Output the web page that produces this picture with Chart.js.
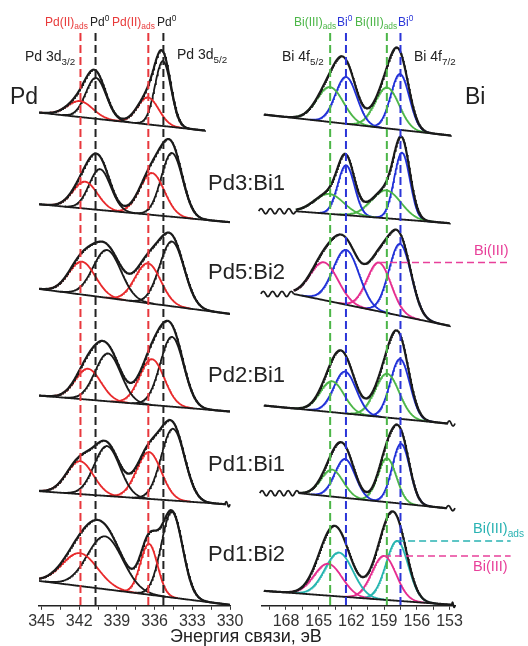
<!DOCTYPE html>
<html>
<head>
<meta charset="utf-8">
<script src="https://cdn.jsdelivr.net/npm/chart.js@4.4.1/dist/chart.umd.min.js"></script>
<style>
body { margin: 0; background: #fff; }
#wrap { position: relative; width: 528px; height: 646px; overflow: hidden; font-family: Arial, "Liberation Sans", sans-serif; color: #222; }
canvas { position: absolute; top: 0; }
#pdChart { left: 0; }
#biChart { left: 250px; }
.lbl { position: absolute; white-space: nowrap; line-height: 1; z-index: 2; }
.lbl sub, .lbl sup { font-size: 70%; line-height: 0; }
.red { color: #e83a3a; } .green { color: #4cb648; } .blue { color: #2a35d8; }
.mag { color: #e8409a; } .cyan { color: #2ab3b3; }
</style>
</head>
<body>
<div id="wrap">
  <canvas id="pdChart" width="264" height="646"></canvas>
  <canvas id="biChart" width="278" height="646"></canvas>

  <div class="lbl red" style="left:45px;top:16px;font-size:12px">Pd(II)<sub>ads</sub></div>
  <div class="lbl" style="left:90px;top:16px;font-size:12px">Pd<sup>0</sup></div>
  <div class="lbl red" style="left:112px;top:16px;font-size:12px">Pd(II)<sub>ads</sub></div>
  <div class="lbl" style="left:157px;top:16px;font-size:12px">Pd<sup>0</sup></div>
  <div class="lbl" style="left:25px;top:49px;font-size:14px">Pd 3d<sub>3/2</sub></div>
  <div class="lbl" style="left:177px;top:47px;font-size:14px">Pd 3d<sub>5/2</sub></div>
  <div class="lbl" style="left:10px;top:85px;font-size:23px">Pd</div>

  <div class="lbl green" style="left:294px;top:16px;font-size:12px">Bi(III)<sub>ads</sub></div>
  <div class="lbl blue" style="left:337px;top:16px;font-size:12px">Bi<sup>0</sup></div>
  <div class="lbl green" style="left:355px;top:16px;font-size:12px">Bi(III)<sub>ads</sub></div>
  <div class="lbl blue" style="left:398px;top:16px;font-size:12px">Bi<sup>0</sup></div>
  <div class="lbl" style="left:282px;top:49px;font-size:14px">Bi 4f<sub>5/2</sub></div>
  <div class="lbl" style="left:414px;top:49px;font-size:14px">Bi 4f<sub>7/2</sub></div>
  <div class="lbl" style="left:465px;top:85px;font-size:23px">Bi</div>

  <div class="lbl" style="left:208px;top:172px;font-size:22px">Pd3:Bi1</div>
  <div class="lbl" style="left:208px;top:261px;font-size:22px">Pd5:Bi2</div>
  <div class="lbl" style="left:208px;top:364px;font-size:22px">Pd2:Bi1</div>
  <div class="lbl" style="left:208px;top:453px;font-size:22px">Pd1:Bi1</div>
  <div class="lbl" style="left:208px;top:543px;font-size:22px">Pd1:Bi2</div>

  <div class="lbl mag" style="left:474px;top:243px;font-size:14.5px">Bi(III)</div>
  <div class="lbl cyan" style="left:473px;top:521px;font-size:14.5px">Bi(III)<sub>ads</sub></div>
  <div class="lbl mag" style="left:473px;top:559px;font-size:14.5px">Bi(III)</div>

  <div class="lbl" style="left:170px;top:627px;font-size:18px">Энергия связи, эВ</div>
</div>

<script>
// ---- Pd 3d panel ----
const pdStart = [345.2, 345.2, 345.2, 345.2, 345.2, 345.2];
const pdEnd = [332.0, 330.0, 330.0, 330.0, 330.4, 330.0];
const pdBaseStart = [495, 403, 318, 211, 115, 25];
const pdBaseEnd = [477, 385, 293, 195, 102, 1];
const pdBreakEnd = [null, null, null, null, 330.0, null];
// components: Pd(II)ads 3d3/2, Pd0 3d3/2, Pd(II)ads 3d5/2, Pd0 3d5/2
const pdPos = [
    [341.94, 340.67, 336.53, 335.34],
    [341.54, 340.35, 336.21, 334.62],
    [341.78, 339.79, 336.53, 334.62],
    [341.30, 339.71, 336.21, 334.62],
    [341.94, 339.79, 336.45, 334.54],
    [341.94, 339.95, 336.45, 334.62]
];
const pdHeight = [
    [16, 41, 27, 65],
    [27, 41, 42, 64],
    [33, 48, 40, 65],
    [31, 48, 46, 70],
    [33, 50, 47, 72],
    [33, 53, 51, 86]
];
const pdFwhm = [
    [2.4, 1.9, 2.0, 1.5],
    [2.3, 2.0, 2.3, 2.0],
    [2.5, 2.6, 2.4, 2.3],
    [2.4, 2.4, 2.3, 2.2],
    [2.5, 2.4, 2.3, 2.2],
    [3.3, 3.3, 1.6, 2.0]
];
const pdColors = ['red', 'black', 'red', 'black'];
const pdGuides = [341.9, 340.7, 336.5, 335.3];
const pdGuideColors = ['red', 'black', 'red', 'black'];

// ---- Bi 4f panel ----
const biStart = [170.0, 167.1, 167.3, 170.0, 166.8, 170.0];
const biEnd = [152.9, 153.0, 153.0, 153.2, 153.3, 152.8];
const biBaseStart = [493, 396, 313, 201, 113, 15];
const biBaseEnd = [472, 384, 281, 183, 98, 1];
const biBreakStart = [null, 170.5, 170.3, null, 170.4, null];
const biBreakEnd = [null, null, null, 152.5, 152.5, 152.5];
const biPos = [
    [163.96, 162.49, 158.73, 157.54],
    [164.05, 162.49, 158.82, 157.36],
    [164.51, 162.49, 159.47, 157.54],
    [163.78, 162.59, 158.73, 157.54],
    [163.78, 162.59, 158.73, 157.45],
    [164.14, 163.14, 159.01, 157.81]
];
const biHeight = [
    [35, 47, 41, 56],
    [20, 50, 28, 67],
    [38, 55, 49, 72],
    [31, 42, 44, 60],
    [27, 39, 44, 60],
    [32, 44, 44, 60]
];
const biFwhm = [
    [2.9, 2.3, 2.6, 2.0],
    [3.2, 1.8, 3.2, 1.7],
    [3.0, 2.8, 2.6, 2.4],
    [2.6, 2.4, 2.6, 2.1],
    [2.4, 2.2, 2.0, 1.9],
    [3.0, 3.0, 2.6, 2.4]
];
const biColors = [
    ['green', 'blue', 'green', 'blue'],
    ['green', 'blue', 'green', 'blue'],
    ['magenta', 'blue', 'magenta', 'blue'],
    ['green', 'blue', 'green', 'blue'],
    ['green', 'blue', 'green', 'blue'],
    ['magenta', 'cyan', 'magenta', 'cyan']
];
const biGuides = [163.95, 162.5, 158.75, 157.5];
const biGuideColors = ['green', 'blue', 'green', 'blue'];
// horizontal marker lines: [spectrum, component, colour]
const biMarkers = [[2, 2, 'magenta'], [5, 3, 'cyan'], [5, 2, 'magenta']];
const markerEnd = 147.4;
const guideTop = 575;

const palette = {
    red: '#e8292b', black: '#1a1a1a', green: '#4cb648',
    blue: '#2030d8', magenta: '#e62d8f', cyan: '#25b5b0'
};
const guidePalette = {
    red: '#e8383d', black: '#222', green: '#4cb648', blue: '#2b35d8',
    magenta: '#e8409a', cyan: '#2ab3b3'
};

function peak(e, c, h, w) {
    const s = w / 2.3548;
    return h * Math.exp(-0.5 * Math.pow((e - c) / s, 2));
}

function baseAt(e, s, i) {
    return s.b0[i] + (s.b1[i] - s.b0[i]) * (e - s.start[i]) / (s.end[i] - s.start[i]);
}

function buildDatasets(s) {
    const lines = [];
    const comps = [];
    for (let i = 0; i < s.start.length; i++) {
        const env = [], base = [], parts = s.pos[i].map(() => []);
        for (let e = s.start[i]; e >= s.end[i] - 1e-9; e -= 0.05) {
            const b = baseAt(e, s, i);
            let sum = 0;
            s.pos[i].forEach((c, k) => {
                const v = peak(e, c, s.height[i][k], s.fwhm[i][k]);
                sum += v;
                if (v > 0.15) parts[k].push({ x: e, y: b + v });
            });
            env.push({ x: e, y: b + sum });
            base.push({ x: e, y: b });
        }
        lines.push({ data: env, borderColor: palette.black, borderWidth: 2.2 });
        lines.push({ data: base, borderColor: palette.black, borderWidth: 1.8 });
        parts.forEach((p, k) => {
            comps.push({ data: p, borderColor: palette[s.colors[i][k]], borderWidth: 1.8 });
        });
    }
    return lines.concat(comps).map(d => Object.assign(d, { pointRadius: 0, tension: 0, fill: false }));
}

// break mark drawn at the end of a baseline
function squiggle(ctx, x0, x1, yy) {
    const n = Math.max(2, Math.round(Math.abs(x1 - x0) / 4.5));
    const step = (x1 - x0) / n;
    ctx.beginPath();
    ctx.moveTo(x0, yy);
    for (let k = 0; k < n; k++) {
        const amp = (k % 2 ? 1 : -1) * 2.6;
        ctx.quadraticCurveTo(x0 + step * (k + 0.5), yy + amp * 2, x0 + step * (k + 1), yy);
    }
    ctx.stroke();
}

const guidePlugin = {
    id: 'guides',
    afterDatasetsDraw(chart, args, opts) {
        const ctx = chart.ctx;
        const x = chart.scales.x, y = chart.scales.y;
        const s = opts.spec;
        ctx.save();
        ctx.lineWidth = 2;
        ctx.setLineDash([8, 4]);
        s.guides.forEach((g, k) => {
            ctx.strokeStyle = guidePalette[s.guideColors[k]];
            ctx.beginPath();
            ctx.moveTo(x.getPixelForValue(g), y.getPixelForValue(guideTop));
            ctx.lineTo(x.getPixelForValue(g), y.getPixelForValue(0));
            ctx.stroke();
        });
        ctx.lineWidth = 1.5;
        ctx.setLineDash([7, 4]);
        (s.markers || []).forEach(m => {
            const i = m[0], k = m[1];
            const c = s.pos[i][k];
            const v = baseAt(c, s, i) + s.height[i][k];
            ctx.strokeStyle = guidePalette[m[2]];
            ctx.beginPath();
            ctx.moveTo(x.getPixelForValue(c), y.getPixelForValue(v));
            ctx.lineTo(x.getPixelForValue(markerEnd), y.getPixelForValue(v));
            ctx.stroke();
        });
        ctx.setLineDash([]);
        ctx.lineWidth = 1.8;
        ctx.strokeStyle = palette.black;
        for (let i = 0; i < s.start.length; i++) {
            if (s.breakStart && s.breakStart[i] != null) {
                const yy = y.getPixelForValue(s.b0[i]);
                squiggle(ctx, x.getPixelForValue(s.breakStart[i]), x.getPixelForValue(s.start[i]), yy);
            }
            if (s.breakEnd && s.breakEnd[i] != null) {
                const yy = y.getPixelForValue(s.b1[i]);
                squiggle(ctx, x.getPixelForValue(s.end[i]), x.getPixelForValue(s.breakEnd[i]), yy);
            }
        }
        ctx.restore();
    }
};

function makeChart(id, spec, xMin, xMax, pad) {
    const ctx = document.getElementById(id).getContext('2d');
    return new Chart(ctx, {
        type: 'line',
        data: { datasets: buildDatasets(spec) },
        options: {
            responsive: false,
            animation: false,
            devicePixelRatio: 1,
            layout: { padding: { left: pad[0], right: pad[1], top: 0, bottom: 13 } },
            plugins: { legend: { display: false }, tooltip: { enabled: false }, guides: { spec: spec } },
            scales: {
                x: {
                    type: 'linear',
                    reverse: true,
                    min: xMin,
                    max: xMax,
                    grid: { display: true, drawOnChartArea: false, drawTicks: true, tickLength: 4, color: '#333' },
                    border: { display: true, color: '#222', width: 1.5 },
                    ticks: {
                        stepSize: 1.5,
                        includeBounds: false,
                        autoSkip: false,
                        maxRotation: 0,
                        padding: 2,
                        color: '#333',
                        font: { family: 'Arial, "Liberation Sans", sans-serif', size: 16 },
                        callback: v => (Math.abs(v % 3) < 1e-6 ? String(v) : '')
                    }
                },
                y: { display: false, min: 0, max: 608 }
            }
        },
        plugins: [guidePlugin]
    });
}

const pdSpec = {
    start: pdStart, end: pdEnd, b0: pdBaseStart, b1: pdBaseEnd,
    pos: pdPos, height: pdHeight, fwhm: pdFwhm,
    colors: pdPos.map(() => pdColors),
    guides: pdGuides, guideColors: pdGuideColors,
    breakEnd: pdBreakEnd
};
const biSpec = {
    start: biStart, end: biEnd, b0: biBaseStart, b1: biBaseEnd,
    pos: biPos, height: biHeight, fwhm: biFwhm, colors: biColors,
    guides: biGuides, guideColors: biGuideColors,
    breakStart: biBreakStart, breakEnd: biBreakEnd, markers: biMarkers
};

makeChart('pdChart', pdSpec, 330, 345.2, [39, 34]);
makeChart('biChart', biSpec, 152.5, 170.2, [12, 73]);
</script>
</body>
</html>
